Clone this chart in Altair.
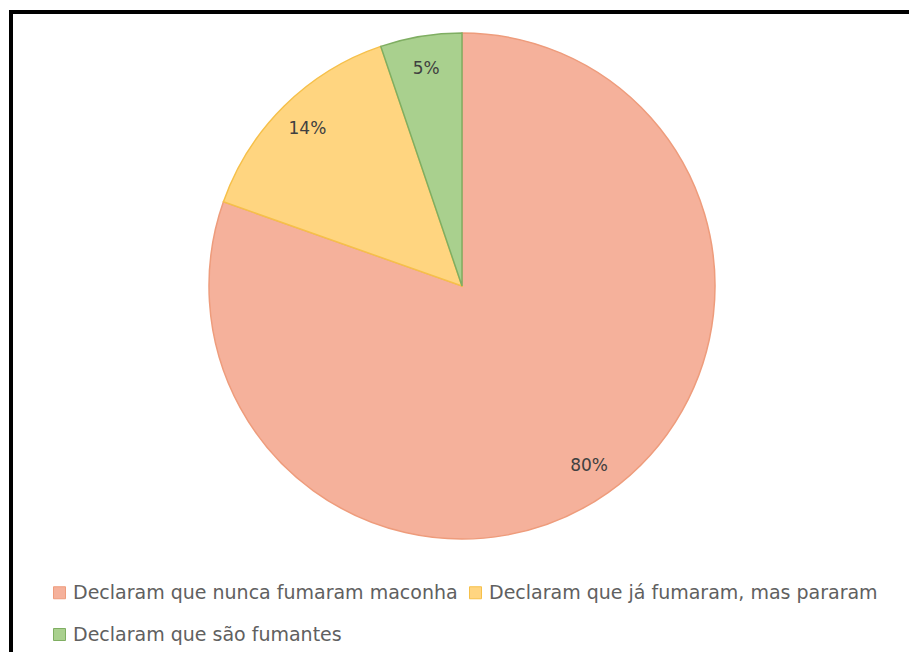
import altair as alt
import pandas as pd

categories = [
    "Declaram que nunca fumaram maconha",
    "Declaram que já fumaram, mas pararam",
    "Declaram que são fumantes",
]
values = [80.4, 14.4, 5.2]
labels = ["80%", "14%", "5%"]
order = [0, 1, 2]
fills = ["#F5B19B", "#FFD580", "#A9D08E"]
strokes = ["#EE9C7C", "#F6C04A", "#7FAE62"]

df = pd.DataFrame({"cat": categories, "val": values, "lab": labels, "ord": order})

W, H = 901, 644
CX, CY = 454, 278
R = 253
FONT = "DejaVu Sans"

legend = alt.Legend(
    title=None,
    orient="none",
    legendX=42,
    legendY=575,
    direction="horizontal",
    columns=2,
    columnPadding=8,
    rowPadding=22,
    symbolType="square",
    symbolSize=144,
    symbolStrokeWidth=1,
    labelFont=FONT,
    labelFontSize=19,
    labelColor="#606060",
    labelLimit=0,
    labelOffset=4,
    padding=0,
)

fill_enc = alt.Fill("cat:N", scale=alt.Scale(domain=categories, range=fills), legend=legend, sort=categories)
stroke_enc = alt.Stroke("cat:N", scale=alt.Scale(domain=categories, range=strokes), legend=legend, sort=categories)

base = alt.Chart(df)

arcs = base.mark_arc(radius=R, strokeWidth=1.5).encode(
    theta=alt.Theta("val:Q", stack=True),
    order=alt.Order("ord:Q"),
    fill=fill_enc,
    stroke=stroke_enc,
    x=alt.value(CX),
    y=alt.value(CY),
)

text = base.mark_text(radius=220, font=FONT, fontSize=17, color="#404040").encode(
    theta=alt.Theta("val:Q", stack=True),
    order=alt.Order("ord:Q"),
    text="lab:N",
    x=alt.value(CX),
    y=alt.value(CY),
)

frame_df = pd.DataFrame({"k": [0]})
top_rule = alt.Chart(frame_df).mark_rule(color="black", strokeWidth=4).encode(
    x=alt.value(1), x2=alt.value(W), y=alt.value(4)
)
left_rule = alt.Chart(frame_df).mark_rule(color="black", strokeWidth=4).encode(
    x=alt.value(3), y=alt.value(2), y2=alt.value(H)
)

chart = (
    alt.layer(arcs, text, top_rule, left_rule)
    .properties(width=W, height=H, padding=0, autosize="none", background="white")
    .configure_view(stroke=None)
)

chart.save("out.html", embed_options={"renderer": "svg", "actions": False})
